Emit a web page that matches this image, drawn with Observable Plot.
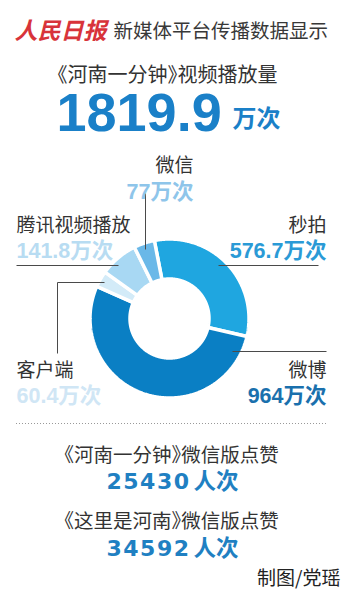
<!DOCTYPE html>
<html>
<head>
<meta charset="utf-8">
<script src="https://cdn.jsdelivr.net/npm/d3@7"></script>
<script src="https://cdn.jsdelivr.net/npm/@observablehq/plot@0.6"></script>
<style>
  html, body { margin: 0; padding: 0; background: #fff; }
  #chart svg { display: block; }
</style>
</head>
<body>
<div id="chart"></div>
<script>
// ---------- data ----------
const logoText = "人民日报";
const headline = "新媒体平台传播数据显示";
const totalTitle = "《河南一分钟》视频播放量";
const totalViews = "1819.9";
const viewUnit = "万次";
const platforms = ["秒拍", "微博", "客户端", "腾讯视频播放", "微信"];
const views = [576.7, 964, 60.4, 141.8, 77];
const likeTitles = ["《河南一分钟》微信版点赞", "《这里是河南》微信版点赞"];
const likes = [25430, 34592];
const likeUnit = "人次";
const credit = "制图/党瑶";

// ---------- styles / layout ----------
const segColors = ["#1fa6e0", "#0a7fc4", "#d3ebf8", "#a8d8f3", "#6ab8e8"];
const valueColors = ["#2a9ad6", "#1a70ad", "#d0e6f5", "#b8dcf2", "#8ec5ea"];
const labelLayout = [
  {x: 326, anchor: "end",   nameY: 231, valueY: 257},
  {x: 326, anchor: "end",   nameY: 376, valueY: 402},
  {x: 16,  anchor: "start", nameY: 376, valueY: 402},
  {x: 16,  anchor: "start", nameY: 231, valueY: 257},
  {x: 193, anchor: "end",   nameY: 171, valueY: 198}
];
const leaders = [
  {x1: 145, y1: 193, x2: 145, y2: 249},
  {x1: 16,  y1: 265, x2: 118, y2: 265},
  {x1: 57,  y1: 282, x2: 57,  y2: 353},
  {x1: 57,  y1: 282, x2: 104, y2: 282},
  {x1: 218, y1: 265, x2: 318, y2: 265},
  {x1: 232, y1: 351, x2: 326, y2: 351}
];
const W = 352, H = 600;
const cx = 169, cy = 318, rOuter = 79.5, rInner = 39.5;
const CJK = "'Noto Sans CJK SC', sans-serif";
const NUM = "'Liberation Sans', Arial, 'Noto Sans CJK SC', sans-serif";
const WIDE = "'DejaVu Sans', 'Noto Sans CJK SC', sans-serif";

// ---------- donut geometry from the data ----------
const deg = Math.PI / 180;
const arcs = d3.pie().sort(null).value((d, i) => views[i])
  .startAngle(-11 * deg).endAngle(349 * deg)(platforms);
const ring = arcs.flatMap(a => {
  const n = Math.max(6, Math.ceil((a.endAngle - a.startAngle) / 0.01));
  const pts = [];
  for (let k = 0; k <= n; k++) {
    const t = a.startAngle + (a.endAngle - a.startAngle) * k / n;
    pts.push({name: a.data, x: cx + rOuter * Math.sin(t), y: cy - rOuter * Math.cos(t)});
  }
  for (let k = n; k >= 0; k--) {
    const t = a.startAngle + (a.endAngle - a.startAngle) * k / n;
    pts.push({name: a.data, x: cx + rInner * Math.sin(t), y: cy - rInner * Math.cos(t)});
  }
  return pts;
});

const labels = platforms.map((p, i) => ({
  name: p,
  value: `${views[i]}${viewUnit}`,
  color: valueColors[i],
  ...labelLayout[i]
}));

function txt(text, x, y, o) {
  return Plot.text([{text, x, y}], {x: "x", y: "y", text: "text", lineAnchor: "bottom", textAnchor: "start", ...o});
}

const plot = Plot.plot({
  width: W, height: H, margin: 0,
  x: {domain: [0, W], range: [0, W], axis: null},
  y: {domain: [0, H], range: [0, H], axis: null},
  color: {domain: platforms, range: segColors},
  style: {background: "#fff", fontFamily: CJK},
  marks: [
    // header
    txt(logoText, 14, 38, {fontSize: 23, fontWeight: "bold", fontStyle: "italic", fill: "#d8333a", fontFamily: CJK}),
    txt(headline, 113, 37, {fontSize: 19.5, fill: "#383838"}),
    txt(totalTitle, 57, 81, {fontSize: 20, fill: "#333"}),
    txt(totalViews, 56, 130, {fontSize: 54, fontWeight: "bold", fill: "#1a80c8", fontFamily: NUM}),
    txt(viewUnit, 232, 126, {fontSize: 24, fontWeight: "bold", fill: "#1a80c8"}),
    // donut
    Plot.line(ring, {x: "x", y: "y", z: "name", fill: "name", stroke: "#fff", strokeWidth: 3.5,
      strokeLinejoin: "miter", curve: "linear-closed"}),
    // leader lines
    Plot.link(leaders, {x1: "x1", y1: "y1", x2: "x2", y2: "y2", stroke: "#4a4a4a", strokeWidth: 1}),
    // platform labels
    Plot.text(labels, {x: "x", y: "nameY", text: "name", textAnchor: "end", lineAnchor: "bottom",
      filter: d => d.anchor === "end", fontSize: 19, fill: "#333"}),
    Plot.text(labels, {x: "x", y: "nameY", text: "name", textAnchor: "start", lineAnchor: "bottom",
      filter: d => d.anchor === "start", fontSize: 19, fill: "#333"}),
    Plot.text(labels, {x: "x", y: "valueY", text: "value", textAnchor: "end", lineAnchor: "bottom",
      filter: d => d.anchor === "end", fontSize: 21.5, fontWeight: "bold", fill: "color", fontFamily: NUM}),
    Plot.text(labels, {x: "x", y: "valueY", text: "value", textAnchor: "start", lineAnchor: "bottom",
      filter: d => d.anchor === "start", fontSize: 21.5, fontWeight: "bold", fill: "color", fontFamily: NUM}),
    // separator
    Plot.ruleY([423], {x1: 16, x2: 326, stroke: "#999", strokeWidth: 1, strokeDasharray: "1,2"}),
    // likes
    Plot.text(likeTitles, {x: 171, y: (d, i) => [461, 527][i], text: d => d, textAnchor: "middle",
      lineAnchor: "bottom", fontSize: 19.5, fill: "#333"}),
    Plot.text(likes, {x: 106, y: (d, i) => [488, 555][i], text: d => String(d), textAnchor: "start",
      lineAnchor: "bottom", fontSize: 22, fontWeight: "bold", fill: "#1f80c2", fontFamily: WIDE}),
    Plot.text(likes, {x: 193, y: (d, i) => [488, 555][i], text: () => likeUnit, textAnchor: "start",
      lineAnchor: "bottom", fontSize: 22.5, fontWeight: "bold", fill: "#1f80c2"}),
    // credit
    txt(credit, 340, 584, {textAnchor: "end", fontSize: 19, fill: "#222"})
  ]
});
const svg = d3.select(plot);
svg.selectAll("text").filter(function () { return /^\d{5}$/.test(this.textContent); })
  .style("letter-spacing", "1.5px");
svg.selectAll("text").filter(function () { return this.textContent.includes("《"); })
  .style("font-feature-settings", "'halt'");
document.getElementById("chart").appendChild(plot);
</script>
</body>
</html>
